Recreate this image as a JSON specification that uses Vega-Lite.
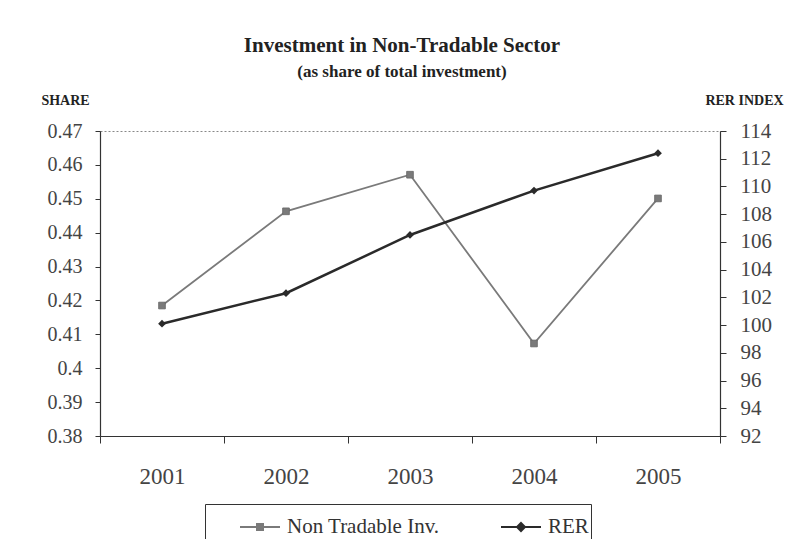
{
  "$schema": "https://vega.github.io/schema/vega-lite/v6.json",
  "width": 620,
  "height": 305,
  "autosize": "none",
  "padding": {"left": 100, "top": 131, "right": 73, "bottom": 103},
  "background": "white",
  "title": {
    "text": "Investment in Non-Tradable Sector",
    "subtitle": "(as share of total investment)",
    "font": "Liberation Serif",
    "fontSize": 21,
    "fontWeight": "bold",
    "color": "#222",
    "subtitleFont": "Liberation Serif",
    "subtitleFontSize": 17,
    "subtitleFontWeight": "bold",
    "subtitleColor": "#222",
    "subtitlePadding": 8,
    "anchor": "middle",
    "offset": 13,
    "dx": -8
  },
  "config": {
    "font": "Liberation Serif",
    "view": {"stroke": "#888", "strokeDash": [2, 2], "strokeWidth": 1},
    "axis": {"grid": false, "domainColor": "#333", "tickColor": "#333", "labelFont": "Liberation Serif", "labelColor": "#444", "titleFont": "Liberation Serif", "titleColor": "#222"},
    "legend": {"labelFont": "Liberation Serif"}
  },
  "data": {
    "values": [
      {"year": "2001", "share": 0.4185, "rer": 100.1},
      {"year": "2002", "share": 0.4463, "rer": 102.3},
      {"year": "2003", "share": 0.4571, "rer": 106.5},
      {"year": "2004", "share": 0.4073, "rer": 109.7},
      {"year": "2005", "share": 0.4501, "rer": 112.4}
    ]
  },
  "encoding": {
    "x": {
      "field": "year",
      "type": "ordinal",
      "scale": {"paddingInner": 0, "paddingOuter": 0},
      "axis": {"title": null, "labelAngle": 0, "tickBand": "extent", "tickSize": 7, "labelFontSize": 23, "labelPadding": 22, "domainWidth": 1.2}
    }
  },
  "layer": [
    {
      "encoding": {
        "y": {
          "field": "share",
          "type": "quantitative",
          "scale": {"domain": [0.38, 0.47], "nice": false, "zero": false},
          "axis": {
            "values": [0.38, 0.39, 0.4, 0.41, 0.42, 0.43, 0.44, 0.45, 0.46, 0.47],
            "format": ".2~f",
            "labelFontSize": 20,
            "tickSize": 5,
            "labelPadding": 13,
            "domainWidth": 1.2,
            "title": "SHARE",
            "titleAngle": 0,
            "titleX": -35,
            "titleY": -27,
            "titleAlign": "center",
            "titleBaseline": "alphabetic",
            "titleFontSize": 14,
            "titleFontWeight": "bold"
          }
        },
        "color": {
          "datum": "Non Tradable Inv.",
          "type": "nominal",
          "scale": {"domain": ["Non Tradable Inv.", "RER"], "range": ["#7a7a7a", "#2a2a2a"]},
          "legend": {
            "orient": "none",
            "legendX": 105,
            "legendY": 373,
            "direction": "horizontal",
            "title": null,
            "strokeColor": "#333",
            "padding": 2,
            "symbolSize": 1600,
            "symbolOffset": 32,
            "labelFont": "Liberation Serif",
            "labelFontSize": 21,
            "labelColor": "#333",
            "labelOffset": 6,
            "columnPadding": 28,
            "encode": {
              "symbols": {
                "update": {
                  "shape": {"signal": "datum.value === 'RER' ? 'M-1,0H1M0,-0.2L0.2,0L0,0.2L-0.2,0Z' : 'M-1,0H1M-0.15,-0.15H0.15V0.15H-0.15Z'"},
                  "fill": {"signal": "datum.value === 'RER' ? '#2a2a2a' : '#7a7a7a'"},
                  "stroke": {"signal": "datum.value === 'RER' ? '#2a2a2a' : '#7a7a7a'"},
                  "strokeWidth": {"value": 2},
                  "opacity": {"value": 1},
                  "fillOpacity": {"value": 1}
                }
              }
            }
          }
        }
      },
      "layer": [
        {"mark": {"type": "line", "strokeWidth": 1.8}},
        {"mark": {"type": "point", "shape": "square", "filled": true, "size": 45, "opacity": 1, "stroke": "#666", "strokeWidth": 0.8}}
      ]
    },
    {
      "encoding": {
        "y": {
          "field": "rer",
          "type": "quantitative",
          "scale": {"domain": [92, 114], "nice": false, "zero": false},
          "axis": {
            "orient": "right",
            "values": [92, 94, 96, 98, 100, 102, 104, 106, 108, 110, 112, 114],
            "labelFontSize": 21,
            "tickSize": 6,
            "labelPadding": 14,
            "domainWidth": 1.2,
            "title": "RER INDEX",
            "titleAngle": 0,
            "titleX": 24,
            "titleY": -27,
            "titleAlign": "center",
            "titleBaseline": "alphabetic",
            "titleFontSize": 14,
            "titleFontWeight": "bold"
          }
        },
        "color": {"datum": "RER", "type": "nominal"}
      },
      "layer": [
        {"mark": {"type": "line", "strokeWidth": 2.5}},
        {"mark": {"type": "point", "shape": "diamond", "filled": true, "size": 60, "opacity": 1}}
      ]
    }
  ],
  "resolve": {"scale": {"y": "independent"}}
}
